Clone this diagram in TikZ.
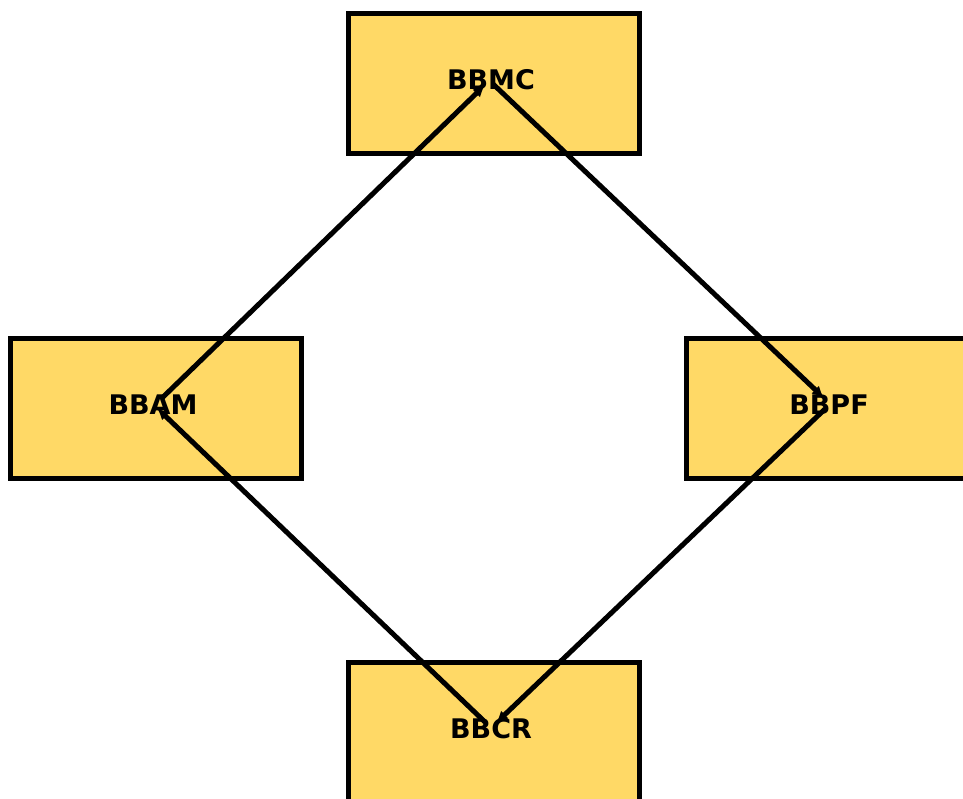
\documentclass[tikz,border=0pt]{standalone}
\usepackage{fontspec}
\setmainfont{DejaVu Sans}
\usetikzlibrary{arrows.meta}
\definecolor{boxfill}{HTML}{FFD966}
\begin{document}
\begin{tikzpicture}[x=1pt,y=-1pt,
  bx/.style={draw=black,line width=5pt,fill=boxfill,minimum width=291pt,minimum height=140pt,inner sep=0pt,anchor=north west},
  lbl/.style={font=\bfseries\fontsize{27}{30}\selectfont},
  conn/.style={line width=5pt,-{Latex[length=12pt,width=11pt]}}]
\useasboundingbox (0,0) rectangle (963,798);
\clip (0,0) rectangle (963,798);
\node[bx] (mcbox) at (345.5,11) {};
\node[bx] (ambox) at (7.5,336) {};
\node[bx] (pfbox) at (683.5,336) {};
\node[bx] (crbox) at (345.5,660) {};
\node[lbl] (mc) at (491,80) {BBMC};
\node[lbl] (am) at (153,405) {BBAM};
\node[lbl] (pf) at (829,405) {BBPF};
\node[lbl] (cr) at (491,729) {BBCR};
\coordinate (mcin) at (485,85);
\coordinate (mcout) at (493,84);
\coordinate (pfin) at (824,398);
\coordinate (pfout) at (825,409);
\coordinate (crin) at (496,723);
\coordinate (crout) at (485,722);
\coordinate (amin) at (157,408);
\coordinate (amout) at (161,399);
\draw[conn] (amout) -- (mcin);
\draw[conn] (mcout) -- (pfin);
\draw[conn] (pfout) -- (crin);
\draw[conn] (crout) -- (amin);
\end{tikzpicture}
\end{document}
